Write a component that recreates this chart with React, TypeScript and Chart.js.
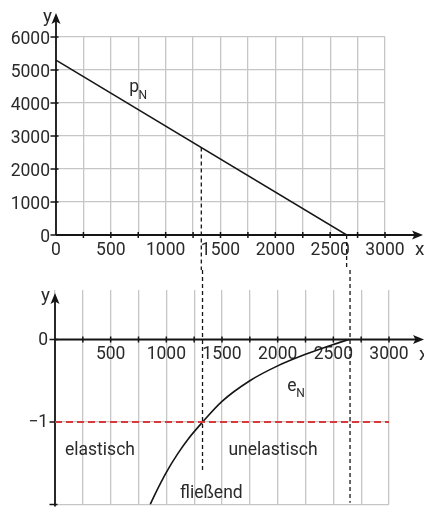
import React, { useEffect, useRef } from 'react';
import { Chart, registerables } from 'chart.js';

Chart.register(...registerables);

const FONT = "Roboto, 'Liberation Sans', sans-serif";
const GRID = '#c6c6c6';
const INK = '#151515';
const TEXT = '#2a2a2a';
const RED = '#d8393b';

// ---- shared x axis ----
const xTickValues = [0, 250, 500, 750, 1000, 1250, 1500, 1750, 2000, 2250, 2500, 2750, 3000];
const xTickLabelsTop = ['0', '', '500', '', '1000', '', '1500', '', '2000', '', '2500', '', '3000'];
const xTickLabelsBottom = ['', '', '500', '', '1000', '', '1500', '', '2000', '', '2500', '', '3000'];

// ---- top panel: demand function p_N ----
const yTickValuesTop = [0, 1000, 2000, 3000, 4000, 5000, 6000];
const yTickLabelsTop = ['0', '1000', '2000', '3000', '4000', '5000', '6000'];
const demandX = [0, 2650];
const demandY = [5300, 0];

// ---- bottom panel: elasticity e_N ----
const yTickValuesBottom = [-2, -1, 0];
const yTickLabelsBottom = ['', '\u22121', '0'];
const elastX = [855, 900, 1000, 1100, 1200, 1326, 1500, 1750, 2000, 2250, 2500, 2640];
const elastY = [-2, -1.87, -1.61, -1.39, -1.2, -1, -0.75, -0.5, -0.32, -0.18, -0.06, 0];
const unitX = [0, 3000];
const unitY = [-1, -1];

// ---- reference quantities ----
const midQuantity = 1325;
const midPrice = 2650;
const saturationQuantity = 2650;
const guideEndBottom = [-1.6, -1.98];

// ---- annotation texts (data coordinates) ----
const topNotes = [{ text: 'p', sub: 'N', x: 668, y: 4320 }];
const bottomNotes = [
  { text: 'e', sub: 'N', x: 2087, y: -0.62, align: 'left' },
  { text: 'elastisch', sub: '', x: 404, y: -1.4, align: 'center' },
  { text: 'unelastisch', sub: '', x: 1958, y: -1.4, align: 'center' },
  { text: 'flie\u00dfend', sub: '', x: 1404, y: -1.92, align: 'center' },
];

const pts = (xs: number[], ys: number[]) => xs.map((x, i) => ({ x, y: ys[i] }));

type AxisCfg = {
  yTipAbove: number;
  yBottomExtra: number;
  xTipRight: number;
  yLabelDx: number;
  yLabelDy: number;
  xLabelDx: number;
  xLabelDy: number;
  guides: { x: number; from: number | 'top'; to: number | 'bottom' }[];
  notes: { text: string; sub: string; x: number; y: number; align?: string }[];
};

function makePlugin(cfg: AxisCfg) {
  return {
    id: 'axesDecor',
    beforeDatasetsDraw(chart: any) {
      const { ctx, chartArea } = chart;
      const xs = chart.scales.x;
      const ys = chart.scales.y;
      const x0 = xs.getPixelForValue(0);
      const y0 = ys.getPixelForValue(0);
      ctx.save();
      ctx.strokeStyle = INK;
      ctx.lineWidth = 1.3;
      ctx.setLineDash([4, 3]);
      cfg.guides.forEach((g) => {
        const gx = xs.getPixelForValue(g.x);
        const a = g.from === 'top' ? 0 : ys.getPixelForValue(g.from);
        const b = g.to === 'bottom' ? chart.height : ys.getPixelForValue(g.to);
        ctx.beginPath();
        ctx.moveTo(gx, a);
        ctx.lineTo(gx, b);
        ctx.stroke();
      });
      ctx.setLineDash([]);
      const yTip = chartArea.top - cfg.yTipAbove;
      const xTip = chartArea.right + cfg.xTipRight;
      ctx.strokeStyle = INK;
      ctx.fillStyle = INK;
      ctx.lineWidth = 1.8;
      ctx.beginPath();
      ctx.moveTo(x0, chartArea.bottom + cfg.yBottomExtra);
      ctx.lineTo(x0, yTip + 6);
      ctx.moveTo(x0, y0);
      ctx.lineTo(xTip - 6, y0);
      ctx.stroke();
      ctx.beginPath();
      ctx.moveTo(x0, yTip);
      ctx.lineTo(x0 - 4.5, yTip + 11);
      ctx.lineTo(x0, yTip + 8.5);
      ctx.lineTo(x0 + 4.5, yTip + 11);
      ctx.closePath();
      ctx.fill();
      ctx.beginPath();
      ctx.moveTo(xTip, y0);
      ctx.lineTo(xTip - 11, y0 - 4.5);
      ctx.lineTo(xTip - 8.5, y0);
      ctx.lineTo(xTip - 11, y0 + 4.5);
      ctx.closePath();
      ctx.fill();
      ctx.lineWidth = 1.5;
      ctx.beginPath();
      xs.ticks.forEach((t: any) => {
        if (t.value === 0) return;
        const px = xs.getPixelForValue(t.value);
        ctx.moveTo(px, y0 - 3);
        ctx.lineTo(px, y0 + 3);
      });
      ys.ticks.forEach((t: any) => {
        const py = ys.getPixelForValue(t.value);
        ctx.moveTo(x0 - 5.5, py);
        ctx.lineTo(x0 + 2.5, py);
      });
      ctx.stroke();
      ctx.restore();
    },
    afterDraw(chart: any) {
      const { ctx, chartArea } = chart;
      const xs = chart.scales.x;
      const ys = chart.scales.y;
      const x0 = xs.getPixelForValue(0);
      const y0 = ys.getPixelForValue(0);
      const yTip = chartArea.top - cfg.yTipAbove;
      const xTip = chartArea.right + cfg.xTipRight;
      ctx.save();
      ctx.fillStyle = TEXT;
      ctx.textBaseline = 'alphabetic';
      ctx.font = `19px ${FONT}`;
      ctx.textAlign = 'right';
      ctx.fillText('y', x0 + cfg.yLabelDx, yTip + cfg.yLabelDy);
      ctx.textAlign = 'left';
      ctx.fillText('x', xTip + cfg.xLabelDx, y0 + cfg.xLabelDy);
      cfg.notes.forEach((n) => {
        const px = xs.getPixelForValue(n.x);
        const py = ys.getPixelForValue(n.y);
        ctx.font = `17.5px ${FONT}`;
        ctx.textAlign = (n.align || 'left') as CanvasTextAlign;
        ctx.fillText(n.text, px, py);
        if (n.sub) {
          const w = ctx.measureText(n.text).width;
          ctx.font = `12px ${FONT}`;
          ctx.textAlign = 'left';
          ctx.fillText(n.sub, px + w - 0.5, py + 6.5);
        }
      });
      ctx.restore();
    },
  };
}

const tickFont = { family: FONT, size: 17.5 };

function TopChart() {
  const ref = useRef<HTMLCanvasElement>(null);
  useEffect(() => {
    const chart = new Chart(ref.current!, {
      type: 'line',
      data: {
        datasets: [
          {
            data: pts(demandX, demandY),
            borderColor: INK,
            borderWidth: 1.5,
            pointRadius: 0,
            fill: false,
          },
        ],
      },
      options: {
        responsive: false,
        animation: false,
        layout: { padding: { left: 0, right: 39, top: 37, bottom: 0 } },
        plugins: { legend: { display: false }, tooltip: { enabled: false } },
        scales: {
          x: {
            type: 'linear',
            min: 0,
            max: 3000,
            position: 'bottom',
            afterBuildTicks: (s: any) => {
              s.ticks = xTickValues.map((v) => ({ value: v }));
            },
            afterFit: (s: any) => {
              s.height = 35;
            },
            ticks: {
              autoSkip: false,
              maxRotation: 0,
              padding: 5,
              color: TEXT,
              font: tickFont,
              callback: (_v: any, i: number) => xTickLabelsTop[i],
            },
            grid: { color: GRID, lineWidth: 1.3, drawTicks: false },
            border: { display: false },
          },
          y: {
            type: 'linear',
            min: 0,
            max: 6000,
            position: 'left',
            afterBuildTicks: (s: any) => {
              s.ticks = yTickValuesTop.map((v) => ({ value: v }));
            },
            afterFit: (s: any) => {
              s.width = 56;
            },
            ticks: {
              autoSkip: false,
              padding: 6,
              labelOffset: 3,
              color: TEXT,
              font: tickFont,
              callback: (_v: any, i: number) => yTickLabelsTop[i],
            },
            grid: { color: GRID, lineWidth: 1.3, drawTicks: false },
            border: { display: false },
          },
        },
      },
      plugins: [
        makePlugin({
          yTipAbove: 24,
          yBottomExtra: 0,
          xTipRight: 38,
          yLabelDx: -4,
          yLabelDy: 9,
          xLabelDx: -8,
          xLabelDy: 20,
          guides: [
            { x: midQuantity, from: midPrice, to: 'bottom' },
            { x: saturationQuantity, from: 0, to: 'bottom' },
          ],
          notes: topNotes,
        }),
      ],
    } as any);
    return () => chart.destroy();
  }, []);
  return <canvas ref={ref} width={424} height={270} style={{ display: 'block' }} />;
}

function BottomChart() {
  const ref = useRef<HTMLCanvasElement>(null);
  useEffect(() => {
    const chart = new Chart(ref.current!, {
      type: 'line',
      data: {
        datasets: [
          {
            data: pts(unitX, unitY),
            borderColor: RED,
            borderWidth: 2,
            borderDash: [7, 4],
            pointRadius: 0,
            fill: false,
          },
          {
            data: pts(elastX, elastY),
            borderColor: INK,
            borderWidth: 1.6,
            pointRadius: 0,
            cubicInterpolationMode: 'monotone',
            fill: false,
          },
        ],
      },
      options: {
        responsive: false,
        animation: false,
        layout: { padding: { left: 0, right: 35, top: 20, bottom: 5 } },
        plugins: { legend: { display: false }, tooltip: { enabled: false } },
        scales: {
          x: {
            type: 'linear',
            axis: 'x',
            min: 0,
            max: 3000,
            position: { y: 0 },
            afterBuildTicks: (s: any) => {
              s.ticks = xTickValues.map((v) => ({ value: v }));
            },
            ticks: {
              autoSkip: false,
              maxRotation: 0,
              padding: 5,
              color: TEXT,
              font: tickFont,
              callback: (_v: any, i: number) => xTickLabelsBottom[i],
            },
            grid: { color: GRID, lineWidth: 1.3, drawTicks: false },
            border: { display: false },
          },
          y: {
            type: 'linear',
            min: -2,
            max: 0.6,
            position: 'left',
            afterBuildTicks: (s: any) => {
              s.ticks = yTickValuesBottom.map((v) => ({ value: v }));
            },
            afterFit: (s: any) => {
              s.width = 55;
            },
            ticks: {
              autoSkip: false,
              padding: 7,
              labelOffset: 1,
              color: TEXT,
              font: tickFont,
              callback: (_v: any, i: number) => yTickLabelsBottom[i],
            },
            grid: { color: GRID, lineWidth: 1.3, drawTicks: false },
            border: { display: false },
          },
        },
      },
      plugins: [
        makePlugin({
          yTipAbove: -3,
          yBottomExtra: 2,
          xTipRight: 35,
          yLabelDx: -5,
          yLabelDy: 8,
          xLabelDx: -5,
          xLabelDy: 20.5,
          guides: [
            { x: midQuantity, from: 'top', to: guideEndBottom[0] },
            { x: saturationQuantity, from: 'top', to: guideEndBottom[1] },
          ],
          notes: bottomNotes,
        }),
      ],
    } as any);
    return () => chart.destroy();
  }, []);
  return <canvas ref={ref} width={424} height={252} style={{ display: 'block' }} />;
}

export default function App() {
  return (
    <div style={{ position: 'absolute', left: 0, top: 0, width: 424, height: 522, background: '#fff', overflow: 'hidden' }}>
      <TopChart />
      <BottomChart />
    </div>
  );
}
